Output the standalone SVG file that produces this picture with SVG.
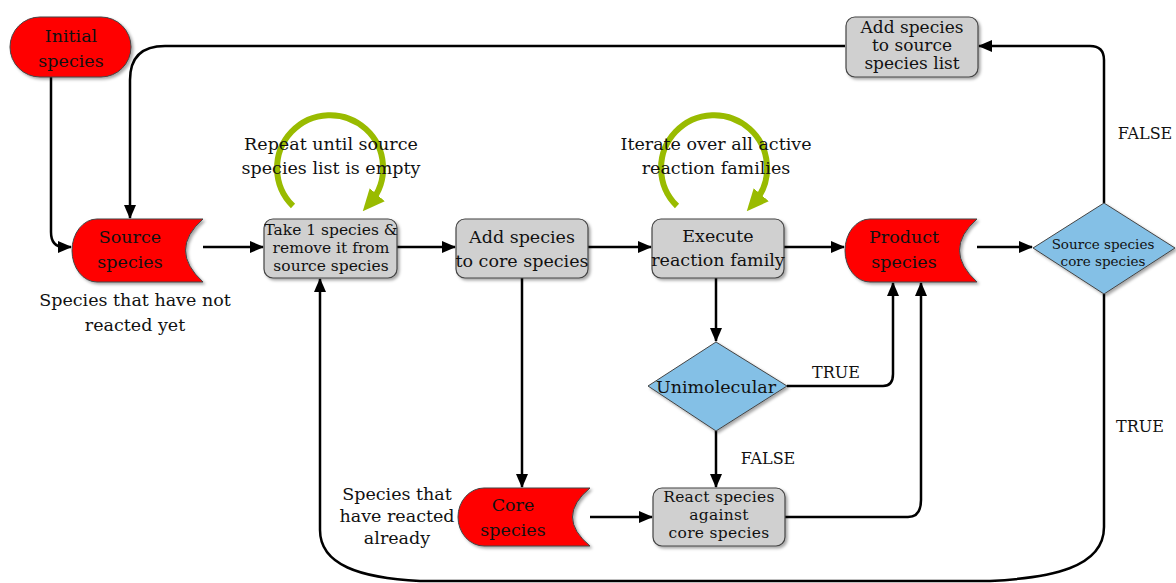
<svg xmlns="http://www.w3.org/2000/svg" width="1176" height="583" viewBox="0 0 1176 583" font-family="'DejaVu Serif', 'Liberation Serif', serif">
<defs>
<filter id="sh" x="-10%" y="-10%" width="130%" height="130%">
<feDropShadow dx="2" dy="2" stdDeviation="1.5" flood-color="#000" flood-opacity="0.35"/>
</filter>
<marker id="ah" markerUnits="userSpaceOnUse" markerWidth="14" markerHeight="12" refX="13" refY="6" orient="auto">
<path d="M0,0 L14,6 L0,12 Z" fill="#000"/>
</marker>
<marker id="gh" markerUnits="userSpaceOnUse" markerWidth="22" markerHeight="22" refX="11" refY="11" orient="auto">
<path d="M0,1 L22,11 L0,21 Z" fill="#99bb00"/>
</marker>
<style>
text{font-family:"DejaVu Serif","Liberation Serif",serif;fill:#111;text-anchor:middle}
.t{font-size:17.5px}
.s{font-size:15.5px}
.m{font-size:17px}
.r{font-size:15.5px;letter-spacing:0.3px}
.l{font-size:17.5px}
.f{font-size:16px}
.xs{font-size:13.5px}
.red{fill:#ff0000;stroke:#444;stroke-width:1}
.grey{fill:#d0d0d0;stroke:#444;stroke-width:1.2}
.blue{fill:#84c0e6;stroke:#444;stroke-width:1}
.c{fill:none;stroke:#000;stroke-width:2.5}
.g{fill:none;stroke:#99bb00;stroke-width:6}
</style>
</defs>

<g id="connectors">
<path class="c" d="M51,77 L51,232 Q51,247 64,247 L71,247" marker-end="url(#ah)"/>
<path class="c" d="M845,46 L165,46 Q130,46 130,80 L130,218" marker-end="url(#ah)"/>
<path class="c" d="M203,247 L263,247" marker-end="url(#ah)"/>
<path class="c" d="M397,247 L455,247" marker-end="url(#ah)"/>
<path class="c" d="M588,247 L651,247" marker-end="url(#ah)"/>
<path class="c" d="M784,247 L844,247" marker-end="url(#ah)"/>
<path class="c" d="M977,247 L1032,247" marker-end="url(#ah)"/>
<path class="c" d="M1104,203 L1104,60 Q1104,46 1090,46 L979,46" marker-end="url(#ah)"/>
<path class="c" d="M716,278 L716,341" marker-end="url(#ah)"/>
<path class="c" d="M787,386 L883,386 Q893,386 893,374 L893,283" marker-end="url(#ah)"/>
<path class="c" d="M716,431 L716,487" marker-end="url(#ah)"/>
<path class="c" d="M785,517 L908,517 Q921,517 921,500 L921,283" marker-end="url(#ah)"/>
<path class="c" d="M522,278 L522,487" marker-end="url(#ah)"/>
<path class="c" d="M590,517 L652,517" marker-end="url(#ah)"/>
<path class="c" d="M1104,294 L1104,527 C1104,568 1050,578 990,581 L420,581 C360,578 320,565 320,530 L320,279" marker-end="url(#ah)"/>
<path class="g" d="M293,206 A53,53 0 1 1 370,203" marker-end="url(#gh)"/>
<path class="g" d="M677,206 A53,53 0 1 1 754,203" marker-end="url(#gh)"/>
</g>

<g id="loop-labels">
<text class="l" x="331" y="150">Repeat until source</text>
<text class="l" x="331" y="174">species list is empty</text>
<text class="l" x="716" y="150">Iterate over all active</text>
<text class="l" x="716" y="174">reaction families</text>
<text class="f" x="836" y="378">TRUE</text>
<text class="f" x="768" y="464">FALSE</text>
<text class="f" x="1145" y="139">FALSE</text>
<text class="f" x="1140" y="432">TRUE</text>
</g>

<g id="initial-species">
<rect class="red" x="10" y="17" width="121" height="60" rx="30" filter="url(#sh)"/>
<text class="t" x="71" y="42">Initial</text>
<text class="t" x="71" y="67">species</text>
</g>

<g id="source-species">
<path class="red" d="M97,219 L203,219 Q168,250 203,282 L97,282 A25,31.5 0 0 1 97,219 Z" filter="url(#sh)"/>
<text class="t" x="130" y="243">Source</text>
<text class="t" x="130" y="268">species</text>
<text class="t" x="135" y="306">Species that have not</text>
<text class="t" x="135" y="331">reacted yet</text>
</g>

<g id="take-species">
<rect class="grey" x="264" y="219" width="133" height="59" rx="9" filter="url(#sh)"/>
<text class="s" x="331" y="235">Take 1 species &amp;</text>
<text class="s" x="331" y="253">remove it from</text>
<text class="s" x="331" y="271">source species</text>
</g>

<g id="add-core">
<rect class="grey" x="456" y="219" width="132" height="59" rx="9" filter="url(#sh)"/>
<text class="t" x="522" y="243">Add species</text>
<text class="t" x="522" y="267">to core species</text>
</g>

<g id="execute">
<rect class="grey" x="652" y="219" width="132" height="59" rx="9" filter="url(#sh)"/>
<text class="t" x="718" y="242">Execute</text>
<text class="t" x="718" y="266">reaction family</text>
</g>

<g id="product-species">
<path class="red" d="M870,219 L977,219 Q942,250 977,282 L870,282 A25,31.5 0 0 1 870,219 Z" filter="url(#sh)"/>
<text class="t" x="904" y="243">Product</text>
<text class="t" x="904" y="268">species</text>
</g>

<g id="check-diamond">
<polygon class="blue" points="1104,203 1175,248 1104,294 1033,248" filter="url(#sh)"/>
<text class="xs" x="1103" y="249">Source species</text>
<text class="xs" x="1103" y="266">core species</text>
</g>

<g id="add-source">
<rect class="grey" x="846" y="17" width="132" height="60" rx="9" filter="url(#sh)"/>
<text class="m" x="912" y="33">Add species</text>
<text class="m" x="912" y="51">to source</text>
<text class="m" x="912" y="69">species list</text>
</g>

<g id="unimolecular">
<polygon class="blue" points="716,342 787,386 716,431 648,386" filter="url(#sh)"/>
<text class="t" x="716" y="393">Unimolecular</text>
</g>

<g id="core-species">
<path class="red" d="M484,488 L590,488 Q555,517 590,546 L484,546 A26,29 0 0 1 484,488 Z" filter="url(#sh)"/>
<text class="t" x="513" y="511">Core</text>
<text class="t" x="513" y="536">species</text>
<text class="t" x="397" y="500">Species that</text>
<text class="t" x="397" y="522">have reacted</text>
<text class="t" x="397" y="544">already</text>
</g>

<g id="react">
<rect class="grey" x="653" y="488" width="132" height="58" rx="9" filter="url(#sh)"/>
<text class="r" x="719" y="502">React species</text>
<text class="r" x="719" y="520">against</text>
<text class="r" x="719" y="538">core species</text>
</g>
</svg>
